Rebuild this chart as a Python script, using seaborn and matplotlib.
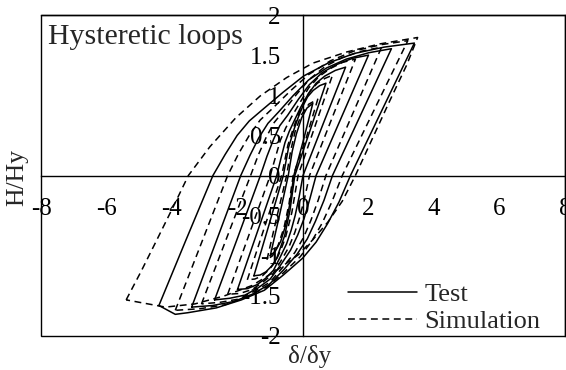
import matplotlib
matplotlib.use("Agg")
import matplotlib.pyplot as plt
from matplotlib.patches import Rectangle
import pandas as pd
import seaborn as sns

# Hysteretic cycles, points as (δ/δy, H/Hy), traced around each loop
test_loop_1 = [(-1.0, -1.0), (-0.72, -0.5), (-0.45, 0.0), (-0.33, 0.3), (-0.2, 0.52), (-0.04, 0.72),
               (0.12, 0.84), (0.3, 0.9), (0.02, 0.45), (-0.28, 0.0), (-0.4, -0.35), (-0.53, -0.62),
               (-0.68, -0.82), (-0.84, -0.94), (-1.0, -1.0)]
test_loop_2 = [(-1.5, -1.25), (-1.05, -0.63), (-0.6, 0.0), (-0.44, 0.35), (-0.27, 0.58), (-0.15, 0.72),
               (-0.01, 0.86), (0.14, 0.98), (0.31, 1.06), (0.51, 1.12), (0.7, 1.15),
               (0.23, 0.58), (-0.25, 0.0), (-0.40, -0.44), (-0.56, -0.75), (-0.69, -0.90),
               (-0.81, -1.04), (-0.96, -1.13), (-1.13, -1.2), (-1.31, -1.24), (-1.5, -1.25)]
test_loop_3 = [(-2.0, -1.42), (-1.4, -0.71), (-0.8, 0.0), (-0.67, 0.22), (-0.55, 0.41), (-0.42, 0.55),
               (-0.27, 0.68), (-0.07, 0.85), (0.15, 1.01), (0.40, 1.15), (0.67, 1.24), (0.99, 1.31),
               (1.3, 1.35), (0.65, 0.68), (0.0, 0.0), (-0.12, -0.27), (-0.24, -0.5), (-0.36, -0.68),
               (-0.5, -0.85), (-0.7, -1.02), (-0.9, -1.18), (-1.14, -1.28), (-1.4, -1.36),
               (-1.7, -1.41), (-2.0, -1.42)]
test_loop_4 = [(-2.7, -1.55), (-2.0, -0.78), (-1.3, 0.0), (-1.1, 0.24), (-0.9, 0.45), (-0.71, 0.62),
               (-0.47, 0.75), (-0.14, 0.95), (0.19, 1.13), (0.58, 1.28), (1.01, 1.38), (1.51, 1.46),
               (2.0, 1.5), (1.2, 0.75), (0.4, 0.0), (0.21, -0.29), (0.03, -0.54), (-0.16, -0.74),
               (-0.38, -0.93), (-0.69, -1.12), (-1.0, -1.29), (-1.37, -1.40), (-1.77, -1.49),
               (-2.24, -1.53), (-2.7, -1.55)]
test_loop_5 = [(-3.4, -1.64), (-2.65, -0.82), (-1.9, 0.0), (-1.62, 0.25), (-1.35, 0.47), (-1.07, 0.65),
               (-0.75, 0.79), (-0.29, 1.0), (0.17, 1.19), (0.72, 1.34), (1.32, 1.45), (2.01, 1.53),
               (2.7, 1.58), (1.8, 0.79), (0.9, 0.0), (0.64, -0.31), (0.38, -0.57), (0.13, -0.79),
               (-0.18, -0.98), (-0.6, -1.18), (-1.04, -1.36), (-1.55, -1.48), (-2.11, -1.57),
               (-2.76, -1.62), (-3.4, -1.64)]
test_loop_6 = [(-4.4, -1.62), (-3.58, -0.81), (-2.75, 0.0), (-2.38, 0.26), (-2.01, 0.5), (-1.64, 0.68),
               (-1.21, 0.83), (-0.6, 1.04), (0.02, 1.24), (0.76, 1.4), (1.56, 1.52), (2.48, 1.6),
               (3.4, 1.65), (2.43, 0.83), (1.45, 0.0), (1.10, -0.33), (0.75, -0.6), (0.40, -0.83),
               (-0.01, -1.03), (-0.6, -1.24), (-1.18, -1.43), (-1.88, -1.55), (-2.65, -1.65),
               (-3.52, -1.71), (-3.9, -1.73), (-4.4, -1.62)]

sim_loop_1 = [(-1.1, -1.05), (-0.8, -0.52), (-0.5, 0.0), (-0.38, 0.3), (-0.24, 0.55), (-0.06, 0.75),
              (0.18, 0.89), (0.45, 0.95), (0.1, 0.47), (-0.3, 0.0), (-0.43, -0.36), (-0.58, -0.65),
              (-0.76, -0.87), (-0.93, -1.0), (-1.1, -1.05)]
sim_loop_2 = [(-1.7, -1.3), (-1.18, -0.65), (-0.65, 0.0), (-0.46, 0.38), (-0.26, 0.63), (-0.11, 0.79),
              (0.05, 0.94), (0.23, 1.06), (0.44, 1.15), (0.67, 1.21), (0.9, 1.25),
              (0.38, 0.63), (-0.15, 0.0), (-0.34, -0.46), (-0.54, -0.78), (-0.69, -0.94),
              (-0.85, -1.08), (-1.03, -1.17), (-1.24, -1.25), (-1.47, -1.29), (-1.7, -1.3)]
sim_loop_3 = [(-2.3, -1.48), (-1.65, -0.74), (-1.0, 0.0), (-0.84, 0.23), (-0.69, 0.44), (-0.53, 0.59),
              (-0.35, 0.73), (-0.09, 0.91), (0.17, 1.09), (0.48, 1.23), (0.82, 1.33), (1.21, 1.41),
              (1.6, 1.45), (0.9, 0.73), (0.2, 0.0), (0.05, -0.28), (-0.1, -0.52), (-0.25, -0.71),
              (-0.43, -0.89), (-0.68, -1.07), (-0.93, -1.23), (-1.23, -1.33), (-1.55, -1.42),
              (-1.93, -1.47), (-2.3, -1.48)]
sim_loop_4 = [(-3.1, -1.6), (-2.35, -0.8), (-1.6, 0.0), (-1.36, 0.26), (-1.12, 0.48), (-0.88, 0.66),
              (-0.6, 0.8), (-0.2, 1.01), (0.2, 1.2), (0.68, 1.36), (1.2, 1.47), (1.8, 1.55),
              (2.4, 1.6), (1.55, 0.8), (0.7, 0.0), (0.47, -0.3), (0.24, -0.56), (0.02, -0.77),
              (-0.25, -0.96), (-0.63, -1.15), (-1.01, -1.33), (-1.47, -1.44), (-1.96, -1.54),
              (-2.53, -1.58), (-3.1, -1.6)]
sim_loop_5 = [(-3.9, -1.68), (-3.1, -0.84), (-2.3, 0.0), (-1.97, 0.27), (-1.64, 0.5), (-1.31, 0.69),
              (-0.92, 0.84), (-0.37, 1.06), (0.18, 1.26), (0.84, 1.43), (1.55, 1.55), (2.38, 1.63),
              (3.2, 1.68), (2.2, 0.84), (1.2, 0.0), (0.89, -0.32), (0.59, -0.59), (0.28, -0.81),
              (-0.08, -1.01), (-0.59, -1.21), (-1.1, -1.39), (-1.71, -1.51), (-2.37, -1.61),
              (-3.14, -1.66), (-3.9, -1.68)]
sim_loop_6 = [(-5.4, -1.55), (-4.95, -1.2), (-4.46, -0.8), (-3.95, -0.38), (-3.5, 0.0), (-2.84, 0.36),
              (-2.05, 0.72), (-1.31, 0.99), (-0.5, 1.22), (0.3, 1.4), (1.34, 1.54), (2.35, 1.64),
              (3.5, 1.72), (3.17, 1.38), (2.66, 0.94), (2.05, 0.4), (1.6, 0.0), (1.2, -0.32),
              (0.76, -0.58), (0.3, -0.8), (-0.15, -0.99), (-0.8, -1.18), (-1.55, -1.37),
              (-2.4, -1.5), (-3.3, -1.6), (-4.2, -1.64), (-5.4, -1.55)]

series_names = ["Test", "Simulation"]
x_ticks = [-8, -6, -4, -2, 0, 2, 4, 6, 8]
x_tick_labels = ["-8", "-6", "-4", "-2", "0", "2", "4", "6", "8"]
y_ticks = [-2, -1.5, -1, -0.5, 0, 0.5, 1, 1.5, 2]
y_tick_labels = ["-2", "-1.5", "-1", "-0.5", "0", "0.5", "1", "1.5", "2"]

loops = {
    "Test": [test_loop_1, test_loop_2, test_loop_3, test_loop_4, test_loop_5, test_loop_6],
    "Simulation": [sim_loop_1, sim_loop_2, sim_loop_3, sim_loop_4, sim_loop_5, sim_loop_6],
}

rows = []
for name in series_names:
    for i, loop in enumerate(loops[name]):
        for k, (dx, hh) in enumerate(loop):
            rows.append({"x": dx, "y": hh, "series": name, "cycle": f"{name}-{i}", "order": k})
df = pd.DataFrame(rows)

sns.set_style("white")
plt.rcParams["font.family"] = ["Liberation Serif", "DejaVu Serif"]
plt.rcParams["axes.unicode_minus"] = False

fig = plt.figure(figsize=(5.66, 3.70), dpi=100)
ax = fig.add_axes([41 / 566, 34 / 370, 524 / 566, 321 / 370])

sns.lineplot(data=df, x="x", y="y", units="cycle", estimator=None, sort=False,
             style="series", style_order=series_names,
             dashes={"Test": "", "Simulation": (4.5, 3.0)},
             color="black", linewidth=1.1, ax=ax)

ax.set_xlim(-8, 8)
ax.set_ylim(-2, 2)

# axes crossing at the origin, plus a closed frame
for side in ("left", "bottom"):
    ax.spines[side].set_position(("data", 0))
for side in ax.spines:
    ax.spines[side].set_color("black")
    ax.spines[side].set_linewidth(1.0)
ax.add_patch(Rectangle((0, 0), 1, 1, transform=ax.transAxes, fill=False,
                       edgecolor="black", linewidth=1.0, clip_on=False, zorder=5))

ax.set_xticks(x_ticks, x_tick_labels)
ax.set_yticks(y_ticks, y_tick_labels)
ax.tick_params(direction="in", length=5, width=1.0, pad=16, labelsize=18, colors="black")

ax.set_xlabel("δ/δy", fontsize=18, ha="center", va="center")
ax.xaxis.set_label_coords(269 / 524, -20 / 321)
ax.set_ylabel("H/Hy", fontsize=18.5, ha="center", va="center")
ax.yaxis.set_label_coords(-24 / 524, 158 / 321)

ax.text(7 / 524, 292 / 321, "Hysteretic loops", transform=ax.transAxes,
        fontsize=21.5, ha="left", va="baseline")

handles, labels = ax.get_legend_handles_labels()
pairs = [(h, l) for h, l in zip(handles, labels) if l in series_names]
ax.legend([p[0] for p in pairs], [p[1] for p in pairs], loc="upper left",
          bbox_to_anchor=(307 / 524, 53.6 / 321), frameon=False, fontsize=19,
          borderpad=0, borderaxespad=0, handlelength=2.6, handletextpad=0.3,
          labelspacing=0.15)

fig.savefig("out.png", dpi=100)
